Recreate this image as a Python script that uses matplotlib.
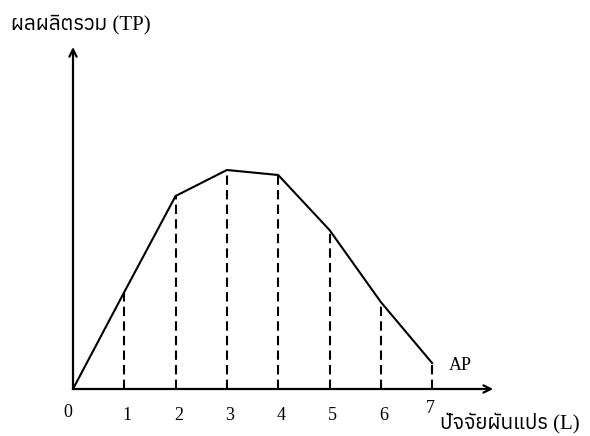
import matplotlib
matplotlib.use('Agg')
import matplotlib.pyplot as plt
from matplotlib import font_manager
from matplotlib.ft2font import FT2Font

# data (TP in arbitrary units)
labour = [0, 1, 2, 3, 4, 5, 6, 7]
tp = [0, 9.7, 19.3, 21.9, 21.4, 15.9, 8.7, 2.6]
tick_labels = ['0', '1', '2', '3', '4', '5', '6', '7']
ylabel = 'ผลผลิตรวม (TP)'
xlabel = 'ปัจจัยผันแปร (L)'
curve_label = 'AP'


def find_thai_font():
    found = []
    for fe in font_manager.fontManager.ttflist:
        try:
            f = FT2Font(fe.fname)
            if f.get_char_index(0x0E1C) and f.get_char_index(0x0E25):
                found.append(fe.name)
        except Exception:
            pass
    return sorted(set(found))


thai = find_thai_font()
fam = ['Liberation Serif'] + thai[:1] + ['DejaVu Sans']

fig = plt.figure(figsize=(5.9, 4.36), dpi=100)
ax = fig.add_axes([0, 0, 1, 1])
ax.set_xlim(-73 / 51.3, (590 - 73) / 51.3)
ax.set_ylim(-4.7, 38.9)
ax.axis('off')

# axes with arrows
arrow = dict(arrowstyle='->', lw=1.6, color='black',
             shrinkA=0, shrinkB=0, mutation_scale=13)
ax.annotate('', xy=(8.19, 0), xytext=(0, 0), arrowprops=arrow)
ax.annotate('', xy=(0, 34.2), xytext=(0, 0), arrowprops=arrow)

ax.plot(labour, tp, color='black', lw=1.5, solid_joinstyle='miter')
for x, y in zip(labour[1:], tp[1:]):
    ax.plot([x, x], [0, y], color='black', lw=1.5, ls=(0, (4.5, 2.5)))

for x, s in zip(labour, tick_labels):
    if x == 0:
        tx, ty = -0.1, -2.3
    elif x == 7:
        tx, ty = 6.96, -1.9
    else:
        tx, ty = x + 0.06, -2.6
    ax.text(tx, ty, s, ha='center', va='center', fontsize=13, family=fam)

ax.text(7.33, 2.4, curve_label, ha='left', va='center', fontsize=13, family=fam)
ax.text(7.15, -3.4, xlabel, ha='left', va='center', fontsize=15, family=fam)
ax.text(-1.2, 36.4, ylabel, ha='left', va='center', fontsize=15, family=fam)

fig.savefig('out.png', dpi=100)
